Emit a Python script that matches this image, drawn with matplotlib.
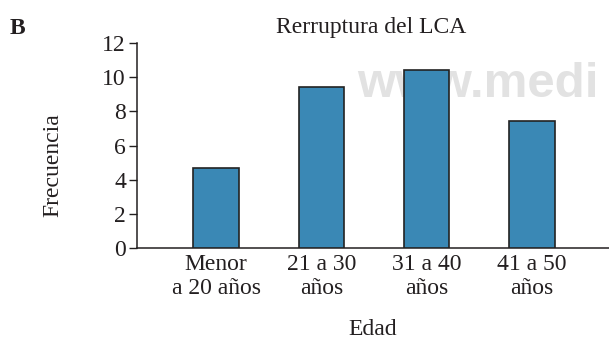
import matplotlib
matplotlib.use("Agg")
import matplotlib.pyplot as plt

categories = ["Menor\na 20 años", "21 a 30\naños", "31 a 40\naños", "41 a 50\naños"]
values = [4.7, 9.4, 10.4, 7.45]
yticks = [0, 2, 4, 6, 8, 10, 12]

plt.rcParams['font.family'] = ['Liberation Serif', 'DejaVu Serif']
txt = "#231f20"
fs = 17

fig = plt.figure(figsize=(6.09, 3.39), dpi=100)

fig.text(357/609, 1 - 97/339, "www.medi", fontsize=35.5, color="#e2e2e2",
         family=["Liberation Sans", "DejaVu Sans"], fontweight="bold",
         ha="left", va="baseline", zorder=-5)

ax = fig.add_axes([137/609, 1 - 248/339, 1 - 137/609, 205/339], zorder=1)

x = list(range(len(categories)))
ax.bar(x, values, width=0.43, color="#3a88b5", edgecolor="#222222", linewidth=1.2, zorder=3)
ax.set_xlim(-0.75, 3.73)
ax.set_ylim(0, 12)
ax.set_yticks(yticks)
ax.set_xticks(x)
ax.set_xticklabels(categories, fontsize=fs, linespacing=1.2, color=txt)
ax.tick_params(axis='x', length=0, pad=4)
ax.tick_params(axis='y', labelsize=fs, length=6, width=1, pad=2, labelcolor=txt, color=txt)
ax.spines['top'].set_visible(False)
ax.spines['right'].set_visible(False)
ax.spines['left'].set_linewidth(1.1)
ax.spines['bottom'].set_linewidth(1.1)
ax.spines['left'].set_color(txt)
ax.spines['bottom'].set_color(txt)
ax.patch.set_alpha(0)

fig.text(53/609, 1 - 165/339, "Frecuencia", fontsize=fs, rotation=90, ha="center", va="center", color=txt)
fig.text(373/609, 1 - 335/339, "Edad", fontsize=fs, ha="center", va="baseline", color=txt)
fig.text(371/609, 1 - 27/339, "Rerruptura del LCA", fontsize=fs, ha="center", va="center", color=txt)
fig.text(10/609, 1 - 28/339, "B", fontsize=fs, fontweight="bold", ha="left", va="center", color=txt)

fig.savefig("out.png", dpi=100)
